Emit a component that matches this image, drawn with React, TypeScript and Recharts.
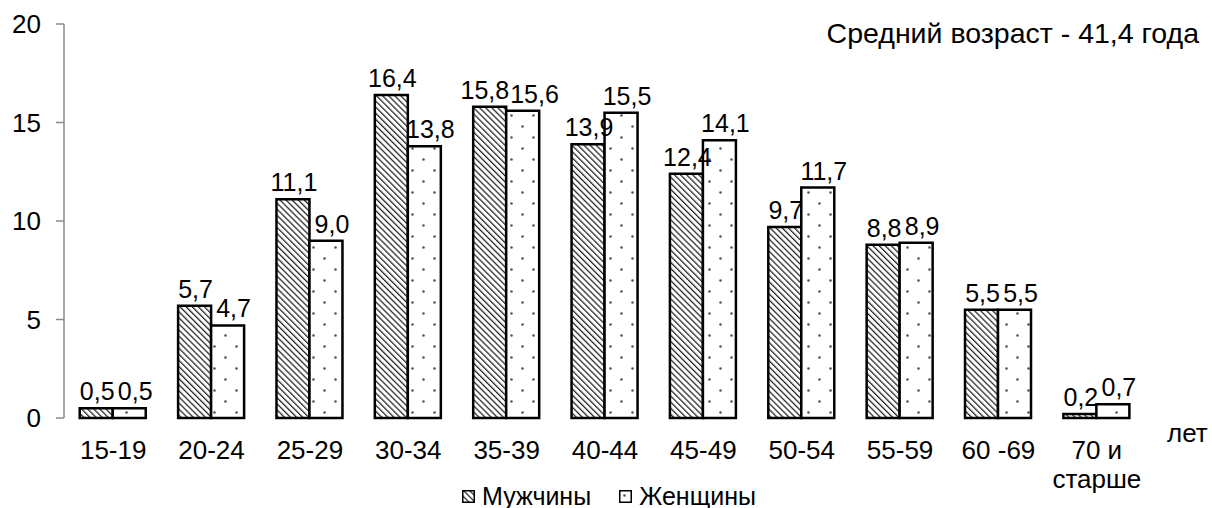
import React from 'react';
import { BarChart, Bar, XAxis, YAxis, Legend, LabelList } from 'recharts';

// age groups, shares in %
const ageGroups = ['15-19', '20-24', '25-29', '30-34', '35-39', '40-44', '45-49', '50-54', '55-59', '60 -69', '70 и\nстарше'];
const menShare = [0.5, 5.7, 11.1, 16.4, 15.8, 13.9, 12.4, 9.7, 8.8, 5.5, 0.2];
const womenShare = [0.5, 4.7, 9.0, 13.8, 15.6, 15.5, 14.1, 11.7, 8.9, 5.5, 0.7];
const yTicks = [0, 5, 10, 15, 20];
const seriesNames = ['Мужчины', 'Женщины'];
const title = 'Средний возраст - 41,4 года';
const unitLabel = 'лет';

const font = '"Liberation Sans", Arial, sans-serif';
const axisGray = '#8a8a8a';
const labelSize = 25;

const data = ageGroups.map((group, i) => ({
  group,
  slot: i + 0.5,
  men: menShare[i],
  women: womenShare[i],
}));

const edgeTicks = ageGroups.map((_, i) => i).concat(ageGroups.length);

const fmt = (v: any) => Number(v).toFixed(1).replace('.', ',');
// rough advance width of a "12,3" style label
const textWidth = (s: string) => [...s].reduce((w, c) => w + (c === ',' ? 0.278 : 0.556), 0) * labelSize;

// value labels: women's sit a little to the right, and a pair at the same height is pushed apart
const makeLabel = (isMen: boolean) => (props: any) => {
  const vb = props.viewBox || props;
  const { x, y, width } = vb;
  const i = props.index;
  const m = menShare[i];
  const w = womenShare[i];
  const menCx = (isMen ? x + width / 2 : x - width / 2) + 1;
  const womenCx = (isMen ? x + width * 1.5 : x + width / 2) + 6;
  let shift = 0;
  if (Math.abs(m - w) < 1) {
    const need = (textWidth(fmt(m)) + textWidth(fmt(w))) / 2 + 1;
    const gap = womenCx - menCx;
    if (gap < need) shift = (need - gap) / 2;
  }
  const cx = isMen ? menCx - shift : womenCx + shift;
  return (
    <text x={cx} y={y - 8} textAnchor="middle" fontSize={labelSize} fill="#000">
      {fmt(props.value)}
    </text>
  );
};

const AgeTick = (props: any) => {
  const { x, y, payload } = props;
  const lines = String(payload.value).split('\n');
  return (
    <text x={x} y={y} textAnchor="middle" fontSize={26} fill="#000">
      {lines.map((line, i) => (
        <tspan key={i} x={x} dy={i === 0 ? 19 : 29}>{line}</tspan>
      ))}
    </text>
  );
};

const patternIds = ['stripes', 'dots'];

const renderLegend = () => (
  <div style={{ display: 'flex', justifyContent: 'center', alignItems: 'center', height: 24, lineHeight: '24px', fontSize: 25, color: '#000', paddingLeft: 6 }}>
    {seriesNames.map((name, i) => (
      <div key={name} style={{ display: 'flex', alignItems: 'center', marginLeft: i ? 28 : 0 }}>
        <svg width={13} height={13} style={{ marginRight: 7 }}>
          <rect x={0.75} y={0.75} width={11.5} height={11.5} fill={`url(#${patternIds[i]})`} stroke="#000" strokeWidth={1.5} />
        </svg>
        <span>{name}</span>
      </div>
    ))}
  </div>
);

export default function App() {
  return (
    <div style={{ position: 'absolute', left: 0, top: 0, width: 1212, height: 508, fontFamily: font, background: '#fff' }}>
      <BarChart
        width={1212}
        height={508}
        data={data}
        margin={{ top: 24, right: 66, left: 0, bottom: 6 }}
        barCategoryGap="16%"
        barGap={0}
      >
        <defs>
          <pattern id="stripes" patternUnits="userSpaceOnUse" width={4.3} height={4.3} patternTransform="rotate(-45)">
            <rect width={4.3} height={4.3} fill="#fff" />
            <line x1={0} y1={0} x2={0} y2={4.3} stroke="#222" strokeWidth={2.5} />
          </pattern>
          <pattern id="dots" patternUnits="userSpaceOnUse" width={22} height={22}>
            <rect width={22} height={22} fill="#fff" />
            <circle cx={5.5} cy={5.5} r={1.3} fill="#555" />
            <circle cx={16.5} cy={16.5} r={1.3} fill="#555" />
          </pattern>
        </defs>
        <XAxis
          xAxisId="edges"
          dataKey="slot"
          type="number"
          domain={[0, ageGroups.length]}
          allowDataOverflow
          ticks={edgeTicks}
          tick={false}
          height={0}
          tickSize={7}
          stroke={axisGray}
          axisLine={{ stroke: axisGray, strokeWidth: 1.5 }}
          tickLine={{ stroke: axisGray, strokeWidth: 1.5 }}
        />
        <XAxis
          xAxisId="cat"
          dataKey="group"
          height={60}
          interval={0}
          axisLine={false}
          tickLine={false}
          tickSize={7}
          tickMargin={15}
          tick={<AgeTick />}
        />
        <YAxis
          width={64}
          domain={[0, 20]}
          ticks={yTicks}
          interval={0}
          tickSize={8}
          tickMargin={15}
          stroke={axisGray}
          axisLine={{ stroke: axisGray, strokeWidth: 1.5 }}
          tickLine={{ stroke: axisGray, strokeWidth: 1.5 }}
          tick={{ fontSize: 26, fill: '#000' }}
        />
        <Legend content={renderLegend} verticalAlign="bottom" wrapperStyle={{ left: 0, width: 1212, bottom: 0 }} />
        <Bar xAxisId="cat" dataKey="men" name={seriesNames[0]} fill="url(#stripes)" stroke="#000" strokeWidth={2.5} isAnimationActive={false}>
          <LabelList dataKey="men" content={makeLabel(true)} />
        </Bar>
        <Bar xAxisId="cat" dataKey="women" name={seriesNames[1]} fill="url(#dots)" stroke="#000" strokeWidth={2.5} isAnimationActive={false}>
          <LabelList dataKey="women" content={makeLabel(false)} />
        </Bar>
      </BarChart>
      <div style={{ position: 'absolute', right: 13, top: 19, fontSize: 28.5, lineHeight: 1, color: '#000' }}>{title}</div>
      <div style={{ position: 'absolute', left: 1167, top: 420, fontSize: 26, lineHeight: 1, color: '#000' }}>{unitLabel}</div>
    </div>
  );
}
